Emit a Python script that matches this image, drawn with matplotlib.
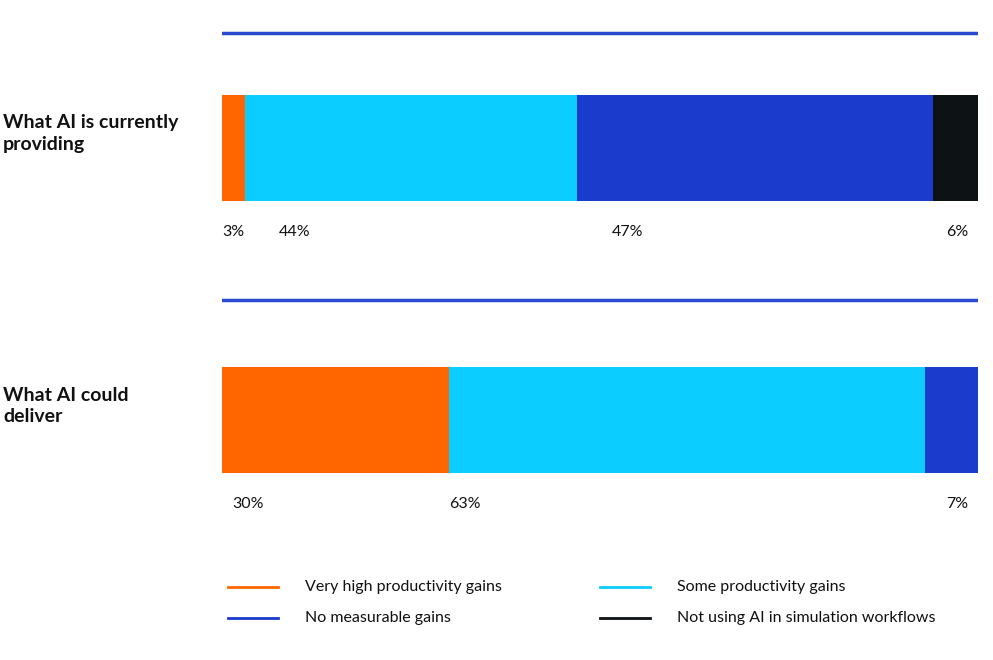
import matplotlib
matplotlib.use("Agg")
import matplotlib.pyplot as plt
import numpy as np

categories = ["What AI is currently\nproviding", "What AI could\ndeliver"]
series = ["Very high productivity gains", "Some productivity gains",
          "No measurable gains", "Not using AI in simulation workflows"]
current = [3, 44, 47, 6]
could = [30, 63, 7, 0]
colors = ["#FF6600", "#0BCDFF", "#1A3BCC", "#0D1214"]

plt.rcParams['font.family'] = ['Lato', 'DejaVu Sans']
W, H = 993, 660
fig = plt.figure(figsize=(W/100, H/100), dpi=100)
ax = fig.add_axes([222/W, 0, 756/W, 1])
ax.set_xlim(0, 100)
ax.set_ylim(H, 0)
ax.axis('off')

rows = [current, could]
ycent = [147.5, 420]
lines_y = [33, 300]
for r, (vals, yc, ly) in enumerate(zip(rows, ycent, lines_y)):
    ax.axhline(ly, color="#2A4BD0", lw=2.5)
    left = 0
    nz = [i for i, v in enumerate(vals) if v > 0]
    for i in nz:
        v = vals[i]
        ax.barh(yc, v, left=left, height=106, color=colors[i])
        ly2 = yc + 84
        if i == nz[-1]:
            ax.text(98.7, ly2, f"{v}%", ha='right', va='center', fontsize=11.5, color="#111")
        elif i == 0:
            ax.text(left + (0 if r == 0 else 1.3), ly2, f"{v}%", ha='left', va='center', fontsize=11.5, color="#111")
        else:
            ax.text(left + (4.5 if r == 0 else 0), ly2, f"{v}%", ha='left', va='center', fontsize=11.5, color="#111")
        left += v
    fig.text(3/W, 1 - (yc - 14)/H, categories[r], ha='left', va='center',
             fontsize=14, fontweight='bold', color="#111", linespacing=1.3)

# legend
pos = [(228, 587), (600, 587), (228, 618), (600, 618)]
order = [0, 1, 2, 3]
for i, (x, y) in zip(order, pos):
    fig.add_artist(plt.Line2D([x/W, (x+50)/W], [1-y/H, 1-y/H], color=colors[i], lw=2))
    fig.text((x+77)/W, 1-y/H, series[i], ha='left', va='center', fontsize=11.5, color="#111")

fig.savefig("out.png", dpi=100)
